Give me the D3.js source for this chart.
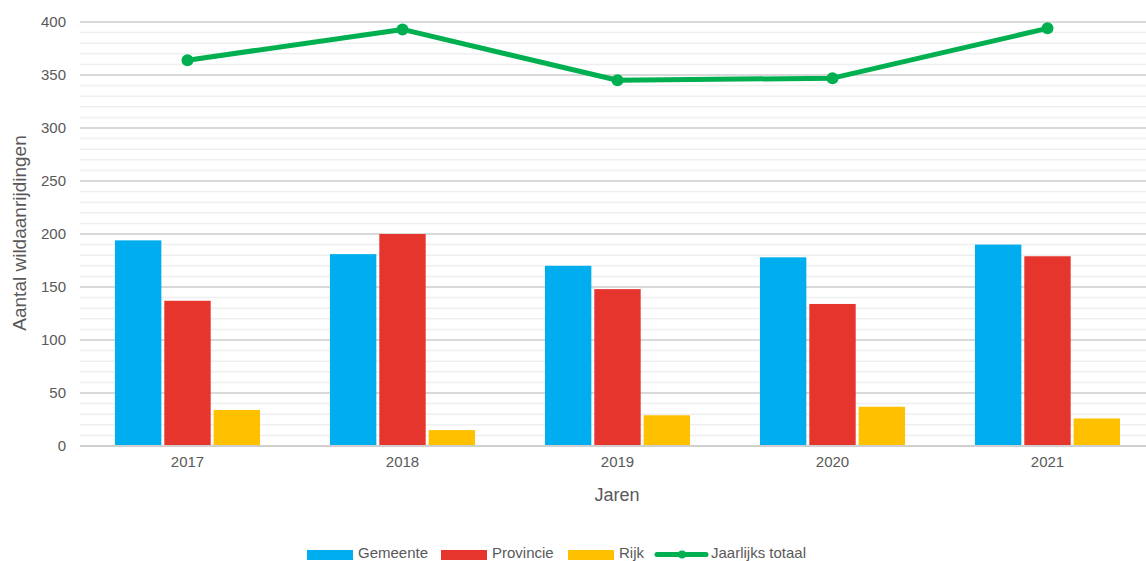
<!DOCTYPE html>
<html><head><meta charset="utf-8">
<script src="https://cdn.jsdelivr.net/npm/d3@7"></script>
<style>
html,body{margin:0;padding:0;background:#fff;}
svg{display:block;font-family:"Liberation Sans",Arial,sans-serif;}
</style></head>
<body><svg id="c" width="1146" height="561"></svg>
<script>
const years = ["2017","2018","2019","2020","2021"];
const gemeente = [194,181,170,178,190];
const provincie = [137,200,148,134,179];
const rijk = [34,15,29,37,26];
const totaal = [364,393,345,347,394];
const seriesNames = ["Gemeente","Provincie","Rijk"];
const yTicks = [0,50,100,150,200,250,300,350,400];
const colors = {Gemeente:"#00AEEF",Provincie:"#E5352D",Rijk:"#FFC000",line:"#00B050"};

const svg = d3.select("#c");
const x = d3.scaleBand().domain(years).range([80,1155]);
const x1 = d3.scaleBand().domain(seriesNames).range([0,151]).padding(0.06);
const y = d3.scaleLinear().domain([0,400]).range([446,22]);

// minor grid
const minor = d3.range(0,401,10).filter(v=>v%50!==0);
svg.append("g").selectAll("line").data(minor).join("line")
  .attr("x1",80).attr("x2",1146).attr("y1",d=>y(d)).attr("y2",d=>y(d))
  .attr("stroke","#efefef").attr("stroke-width",1.5);
// major grid
svg.append("g").selectAll("line").data(yTicks).join("line")
  .attr("x1",80).attr("x2",1146).attr("y1",d=>y(d)).attr("y2",d=>y(d))
  .attr("stroke",d=>d===0?"#cfcfcf":"#d9d9d9").attr("stroke-width",2);

// y axis labels
const ya = svg.append("g").attr("transform","translate(66,0)")
  .call(d3.axisLeft(y).tickValues(yTicks).tickSize(0).tickPadding(0));
ya.select(".domain").remove();
ya.selectAll("text").attr("font-size",15).attr("fill","#595959").attr("font-family","Liberation Sans, Arial, sans-serif");

// x axis labels
const xa = svg.append("g").attr("transform","translate(0,456)")
  .call(d3.axisBottom(x).tickSize(0).tickPadding(0));
xa.select(".domain").remove();
xa.selectAll("text").attr("font-size",15).attr("fill","#595959").attr("dy","0.71em").attr("font-family","Liberation Sans, Arial, sans-serif");

// bars
const data = years.map((yr,i)=>({year:yr,values:[gemeente[i],provincie[i],rijk[i]]}));
const g = svg.append("g").selectAll("g").data(data).join("g")
  .attr("transform",d=>`translate(${x(d.year)+x.bandwidth()/2-75.5},0)`);
g.selectAll("rect").data(d=>d.values.map((v,j)=>({k:seriesNames[j],v}))).join("rect")
  .attr("x",d=>x1(d.k)).attr("width",x1.bandwidth())
  .attr("y",d=>y(d.v)).attr("height",d=>y(0)-y(d.v)-1)
  .attr("fill",d=>colors[d.k]);

// line
const cx = d=>x(d)+x.bandwidth()/2;
svg.append("path").datum(years.map((yr,i)=>[cx(yr),y(totaal[i])]))
  .attr("d",d3.line()).attr("fill","none").attr("stroke",colors.line).attr("stroke-width",5).attr("stroke-linejoin","round");
svg.append("g").selectAll("circle").data(years).join("circle")
  .attr("cx",cx).attr("cy",(d,i)=>y(totaal[i])).attr("r",6).attr("fill",colors.line);

// axis titles
svg.append("text").attr("transform","translate(26,233) rotate(-90)").attr("text-anchor","middle")
  .attr("font-size",19).attr("fill","#595959").text("Aantal wildaanrijdingen");
svg.append("text").attr("x",617).attr("y",501).attr("text-anchor","middle")
  .attr("font-size",18).attr("fill","#595959").text("Jaren");

// legend
const legend = [
  {name:"Gemeente",type:"rect",sx:307,tx:358},
  {name:"Provincie",type:"rect",sx:441,tx:492},
  {name:"Rijk",type:"rect",sx:568,tx:619},
  {name:"Jaarlijks totaal",type:"line",sx:657,tx:711}
];
const lg = svg.append("g");
legend.forEach(l=>{
  if(l.type==="rect"){
    lg.append("rect").attr("x",l.sx).attr("y",550).attr("width",46).attr("height",10).attr("fill",colors[l.name]);
  } else {
    lg.append("line").attr("x1",l.sx).attr("x2",l.sx+49).attr("y1",554.5).attr("y2",554.5)
      .attr("stroke",colors.line).attr("stroke-width",5).attr("stroke-linecap","round");
    lg.append("circle").attr("cx",l.sx+25).attr("cy",554.5).attr("r",4).attr("fill",colors.line);
  }
  lg.append("text").attr("x",l.tx).attr("y",558).attr("font-size",15).attr("fill","#595959").text(l.name);
});
</script></body></html>
